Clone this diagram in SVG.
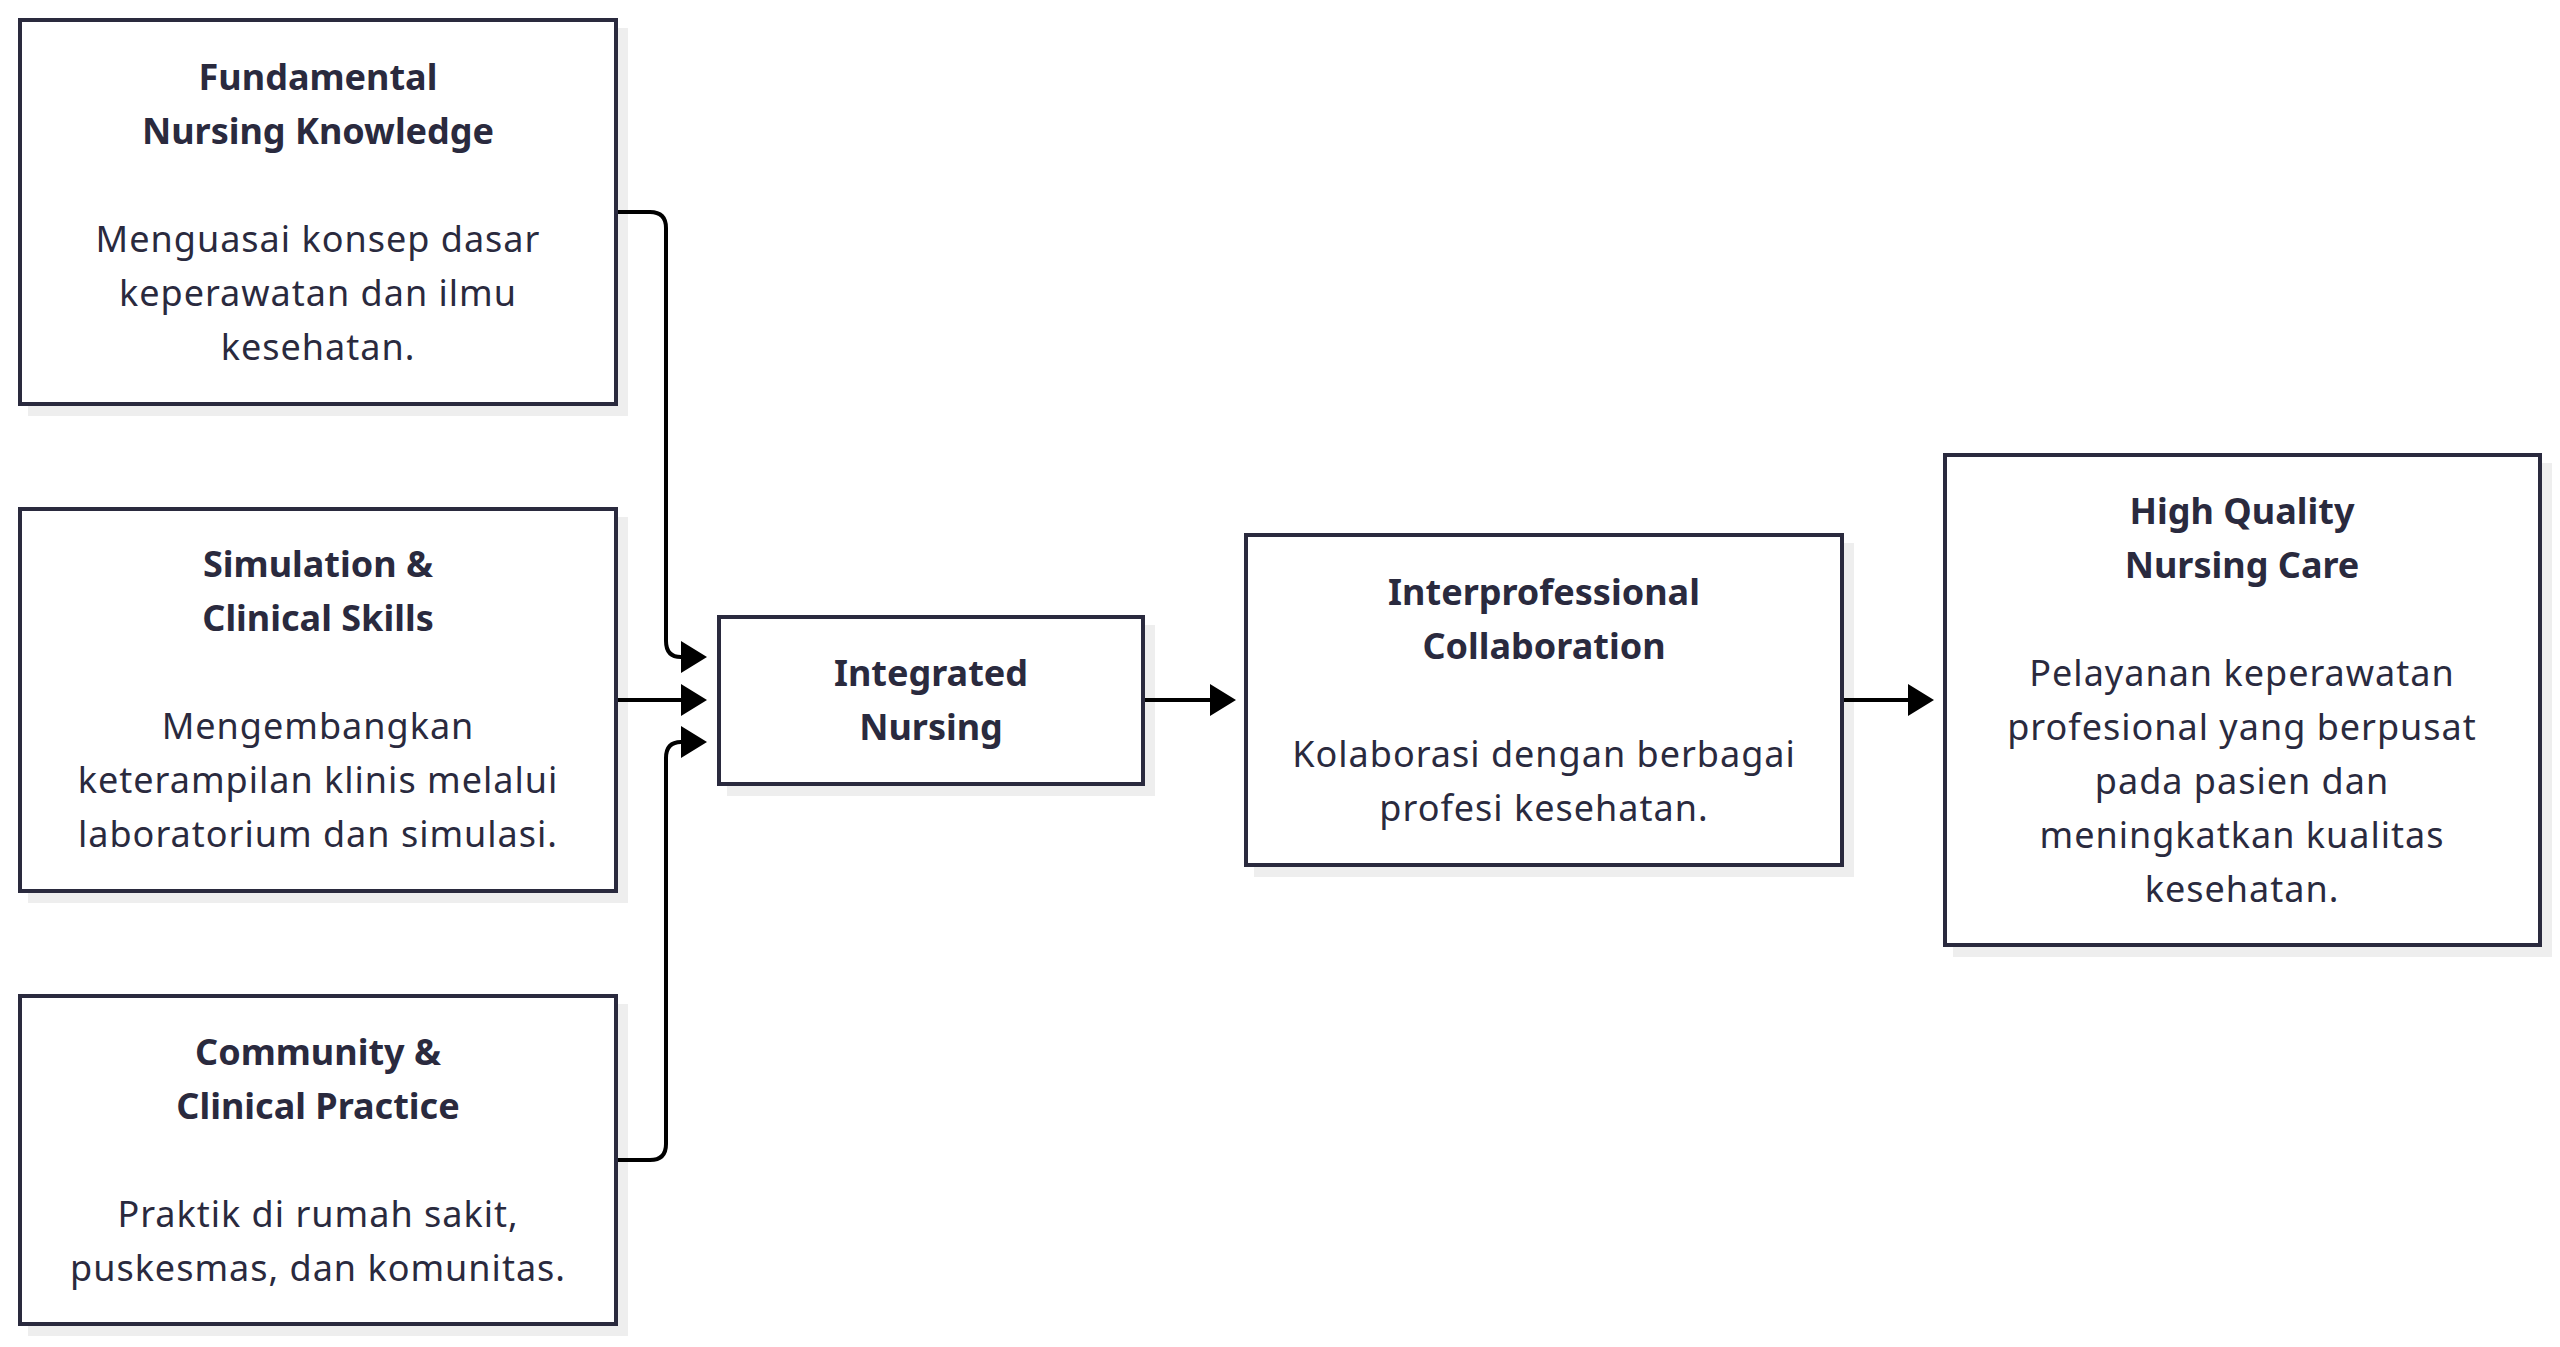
<svg xmlns="http://www.w3.org/2000/svg" width="2560" height="1347" viewBox="0 0 2560 1347">
<defs>
<style>
.bg{fill:#ffffff}
.shadow{fill:#eeeeee}
.box{fill:#ffffff;stroke:#2a2a3e;stroke-width:4}
.t{font-family:"Noto Sans","Open Sans","DejaVu Sans",sans-serif;font-size:36px;fill:#2a2a3e;text-anchor:middle}
.d{letter-spacing:1px}
.b{font-weight:700}
.conn{fill:none;stroke:#000000;stroke-width:4;marker-end:url(#arrow)}
</style>
<marker id="arrow" viewBox="0 0 26 32" refX="0" refY="16" markerWidth="26" markerHeight="32" markerUnits="userSpaceOnUse" orient="auto">
<path d="M0,0 L26,16 L0,32 Z" fill="#000000"/>
</marker>
</defs>
<rect class="bg" x="0" y="0" width="2560" height="1347"/>

<g id="node-fundamental">
<rect class="shadow" x="28" y="28" width="600" height="388"/>
<rect class="box" x="20" y="20" width="596" height="384"/>
<text class="t b" x="318" y="89.5">Fundamental</text>
<text class="t b" x="318" y="143.5">Nursing Knowledge</text>
<text class="t d" x="318" y="251.5">Menguasai konsep dasar</text>
<text class="t d" x="318" y="305.5">keperawatan dan ilmu</text>
<text class="t d" x="318" y="359.5">kesehatan.</text>
</g>

<g id="node-simulation">
<rect class="shadow" x="28" y="517" width="600" height="386"/>
<rect class="box" x="20" y="509" width="596" height="382"/>
<text class="t b" x="318" y="577">Simulation &amp;</text>
<text class="t b" x="318" y="631">Clinical Skills</text>
<text class="t d" x="318" y="739">Mengembangkan</text>
<text class="t d" x="318" y="793">keterampilan klinis melalui</text>
<text class="t d" x="318" y="847">laboratorium dan simulasi.</text>
</g>

<g id="node-community">
<rect class="shadow" x="28" y="1004" width="600" height="332"/>
<rect class="box" x="20" y="996" width="596" height="328"/>
<text class="t b" x="318" y="1064.5">Community &amp;</text>
<text class="t b" x="318" y="1118.5">Clinical Practice</text>
<text class="t d" x="318" y="1226.5">Praktik di rumah sakit,</text>
<text class="t d" x="318" y="1280.5">puskesmas, dan komunitas.</text>
</g>

<g id="node-integrated">
<rect class="shadow" x="727" y="625" width="428" height="171"/>
<rect class="box" x="719" y="617" width="424" height="167"/>
<text class="t b" x="931" y="685.5">Integrated</text>
<text class="t b" x="931" y="739.5">Nursing</text>
</g>

<g id="node-interprofessional">
<rect class="shadow" x="1254" y="543" width="600" height="334"/>
<rect class="box" x="1246" y="535" width="596" height="330"/>
<text class="t b" x="1544" y="604.5">Interprofessional</text>
<text class="t b" x="1544" y="658.5">Collaboration</text>
<text class="t d" x="1544" y="766.5">Kolaborasi dengan berbagai</text>
<text class="t d" x="1544" y="820.5">profesi kesehatan.</text>
</g>

<g id="node-highquality">
<rect class="shadow" x="1953" y="463" width="599" height="494"/>
<rect class="box" x="1945" y="455" width="595" height="490"/>
<text class="t b" x="2242" y="523.5">High Quality</text>
<text class="t b" x="2242" y="577.5">Nursing Care</text>
<text class="t d" x="2242" y="685.5">Pelayanan keperawatan</text>
<text class="t d" x="2242" y="739.5">profesional yang berpusat</text>
<text class="t d" x="2242" y="793.5">pada pasien dan</text>
<text class="t d" x="2242" y="847.5">meningkatkan kualitas</text>
<text class="t d" x="2242" y="901.5">kesehatan.</text>
</g>

<g id="connectors">
<path class="conn" d="M618,212 H650 Q666,212 666,228 V641 Q666,657 681,657"/>
<path class="conn" d="M618,700 H681"/>
<path class="conn" d="M618,1160 H650 Q666,1160 666,1144 V758 Q666,742 681,742"/>
<path class="conn" d="M1145,700 H1210"/>
<path class="conn" d="M1844,700 H1908"/>
</g>
</svg>
